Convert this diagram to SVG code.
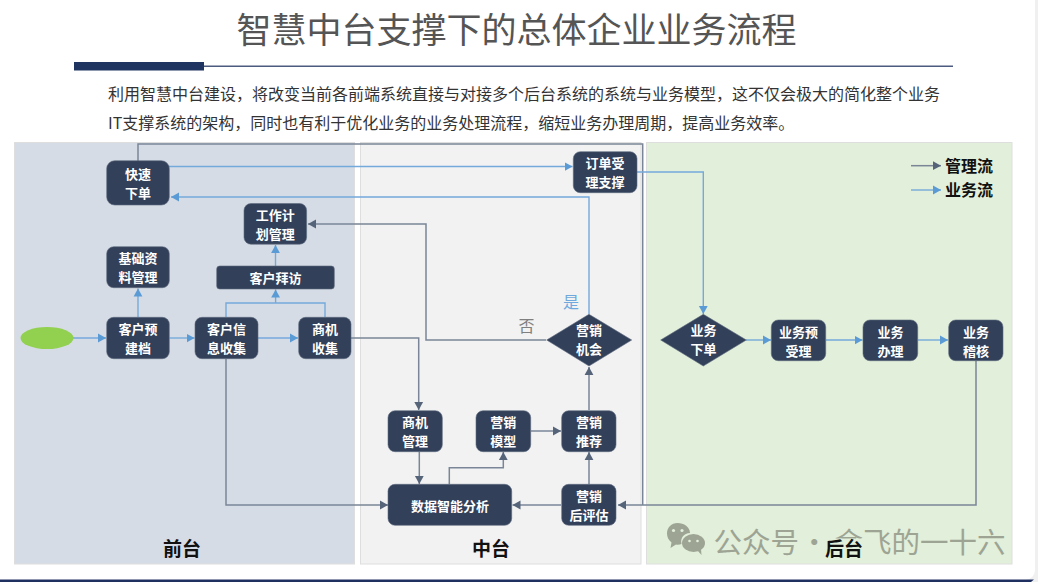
<svg xmlns="http://www.w3.org/2000/svg" width="1038" height="582" viewBox="0 0 1038 582">
<style>
text{font-family:"Noto Sans CJK SC","Liberation Sans",sans-serif}
.n{fill:#334059;stroke:#5c6a80;stroke-width:.6}
.t{fill:#fff;font-size:13px;font-weight:700;text-anchor:middle;dominant-baseline:central}
.c{fill:none}
.g{stroke:#7a8698;stroke-width:1.5}
.b{stroke:#74a9dc;stroke-width:1.4}
.p{font-size:19px;font-weight:700;fill:#111;text-anchor:middle;dominant-baseline:central}
.l{font-size:16px;font-weight:700;fill:#111;dominant-baseline:central}
.body{font-size:16px;fill:#333;dominant-baseline:central}
.panel{stroke:#dedede;stroke-width:1}
</style>
<defs>
<marker id="ag" markerUnits="userSpaceOnUse" markerWidth="10" markerHeight="10" refX="8" refY="5" orient="auto"><path d="M0 0.6L8 5L0 9.4Z" fill="#56647a"/></marker>
<marker id="ab" markerUnits="userSpaceOnUse" markerWidth="10" markerHeight="10" refX="8" refY="5" orient="auto"><path d="M0 0.6L8 5L0 9.4Z" fill="#5b9bd5"/></marker>
</defs>
<rect width="1038" height="582" fill="#f0f0f0"/>
<rect x="-12" y="-12" width="1047" height="592" rx="10" fill="#fff"/>
<path d="M0 579.500H1034L1031 582H0Z" fill="#1f3060"/>
<g id="title">
<text x="516.500" y="27" font-size="35" fill="#555" text-anchor="middle" dominant-baseline="central">智慧中台支撑下的总体企业业务流程</text>
<rect x="74" y="62" width="130" height="8.500" fill="#1f3460"/>
<rect x="204" y="65.500" width="749" height="1.500" fill="#4c5a80"/>
<text class="body" x="108" y="93">利用智慧中台建设&#xFF0C;将改变当前各前端系统直接与对接多个后台系统的系统与业务模型&#xFF0C;这不仅会极大的简化整个业务</text>
<text class="body" x="108" y="122">IT支撑系统的架构&#xFF0C;同时也有利于优化业务的业务处理流程&#xFF0C;缩短业务办理周期&#xFF0C;提高业务效率。</text>
</g>
<g id="panels">
<rect class="panel" x="14.500" y="142.500" width="340" height="421.500" fill="#d6dce5"/>
<rect class="panel" x="360.500" y="142.500" width="280.500" height="421.500" fill="#f2f2f2"/>
<rect class="panel" x="646.500" y="142.500" width="365.500" height="421.500" fill="#e2efda"/>
</g>
<g id="watermark" fill="#9da494">
<path d="M677.500 523C684 523 690 527 690 533C684 533 680 538 681.500 544C680 544.500 678 545 676 544.500L670.500 548L671.500 542.500C668.500 540 667 537 667 533.500C667 527.500 671.500 523 677.500 523Z"/>
<ellipse cx="693.500" cy="543" rx="11.500" ry="9"/><path d="M697 550l4.500 5-0.500-6z"/>
<g fill="#e2efda"><circle cx="673.500" cy="530.500" r="1.600"/><circle cx="682" cy="530.500" r="1.600"/><circle cx="689.500" cy="541" r="1.300"/><circle cx="697.500" cy="541" r="1.300"/></g>
<text y="540" font-size="28.500" dominant-baseline="central"><tspan x="713.500">公众号</tspan><tspan x="800">·</tspan><tspan x="834.500">金飞的一十六</tspan></text>
</g>
<g id="connectors">
<path class="c g" d="M138 161V144H642.700V505"/>
<path class="c g" d="M976 361V505H618" marker-end="url(#ag)"/>
<path class="c g" d="M546 340H426V224H308" marker-end="url(#ag)"/>
<path class="c g" d="M351 338H418.700V410" marker-end="url(#ag)"/>
<path class="c g" d="M419.300 452V484" marker-end="url(#ag)"/>
<path class="c g" d="M449.300 484V467.700H503.300V452" marker-end="url(#ag)"/>
<path class="c g" d="M531 431H561" marker-end="url(#ag)"/>
<path class="c g" d="M589 410V367" marker-end="url(#ag)"/>
<path class="c g" d="M589 484V452" marker-end="url(#ag)"/>
<path class="c g" d="M561 505H512.500" marker-end="url(#ag)"/>
<path class="c g" d="M226 359V505H388" marker-end="url(#ag)"/>
<path class="c b" d="M169 166.500H572.500" marker-end="url(#ab)"/>
<path class="c b" d="M637 172H703.300V314" marker-end="url(#ab)"/>
<path class="c b" d="M589 314V197H171" marker-end="url(#ab)"/>
<path class="c b" d="M226 317V303H325V317"/>
<path class="c b" d="M275.600 303V289.500" marker-end="url(#ab)"/>
<path class="c b" d="M275.500 266V245" marker-end="url(#ab)"/>
<path class="c b" d="M138 317V288.500" marker-end="url(#ab)"/>
<path class="c b" d="M73 338H106" marker-end="url(#ab)"/>
<path class="c b" d="M169.500 338H194.500" marker-end="url(#ab)"/>
<path class="c b" d="M258 338H298" marker-end="url(#ab)"/>
<path class="c b" d="M746 340H771" marker-end="url(#ab)"/>
<path class="c b" d="M826 340H862.500" marker-end="url(#ab)"/>
<path class="c b" d="M918 340H948" marker-end="url(#ab)"/>
<path class="c g" d="M911 165.700H941" marker-end="url(#ag)"/>
<path class="c b" d="M911 190H941" marker-end="url(#ab)"/>
</g>
<g id="start"><ellipse cx="47" cy="338" rx="26.500" ry="11" fill="#92d050"/></g>
<g id="kuaisu"><rect class="n" x="106.700" y="160.700" width="62.600" height="44.300" rx="8"/><text class="t" x="138" y="173.500">快速</text><text class="t" x="138" y="192">下单</text></g>
<g id="gongzuo"><rect class="n" x="244" y="203.500" width="62.600" height="40.700" rx="7"/><text class="t" x="275.300" y="214.500">工作计</text><text class="t" x="275.300" y="233.500">划管理</text></g>
<g id="jichu"><rect class="n" x="106.700" y="246.700" width="62.600" height="41" rx="7"/><text class="t" x="138" y="257.500">基础资</text><text class="t" x="138" y="276.500">料管理</text></g>
<g id="baifang"><rect class="n" x="216.700" y="266" width="117.600" height="23" rx="3"/><text class="t" x="275.500" y="277.500">客户拜访</text></g>
<g id="yujian"><rect class="n" x="106.700" y="317.300" width="62.600" height="41.400" rx="7"/><text class="t" x="138" y="328.500">客户预</text><text class="t" x="138" y="347.500">建档</text></g>
<g id="xinxi"><rect class="n" x="195" y="317.300" width="63" height="41.400" rx="7"/><text class="t" x="226.500" y="328.500">客户信</text><text class="t" x="226.500" y="347.500">息收集</text></g>
<g id="shangji"><rect class="n" x="298.700" y="317.300" width="52.300" height="41.400" rx="7"/><text class="t" x="325" y="328.500">商机</text><text class="t" x="325" y="347.500">收集</text></g>
<g id="dingdan"><rect class="n" x="573.300" y="151.700" width="63.700" height="41" rx="7"/><text class="t" x="605" y="162.500">订单受</text><text class="t" x="605" y="181.500">理支撑</text></g>
<g id="jihui"><path class="n" d="M546.700 340L589 314.300L631.700 340L589 366Z"/><text class="t" x="589" y="329.500">营销</text><text class="t" x="589" y="348.500">机会</text></g>
<g id="guanli"><rect class="n" x="388" y="410.700" width="54.300" height="41" rx="7"/><text class="t" x="415" y="421.500">商机</text><text class="t" x="415" y="440.500">管理</text></g>
<g id="moxing"><rect class="n" x="476" y="410.700" width="54.700" height="41" rx="7"/><text class="t" x="503.300" y="421.500">营销</text><text class="t" x="503.300" y="440.500">模型</text></g>
<g id="tuijian"><rect class="n" x="561.700" y="410.700" width="54.300" height="41" rx="7"/><text class="t" x="589" y="421.500">营销</text><text class="t" x="589" y="440.500">推荐</text></g>
<g id="shuju"><rect class="n" x="388" y="484.300" width="123.700" height="41" rx="7"/><text class="t" x="450" y="505">数据智能分析</text></g>
<g id="pinggu"><rect class="n" x="561.700" y="484.300" width="54.300" height="41" rx="7"/><text class="t" x="589" y="495.500">营销</text><text class="t" x="589" y="514">后评估</text></g>
<g id="xiadan"><path class="n" d="M660.700 340L703.300 314.300L746.300 340L703.300 366Z"/><text class="t" x="703.500" y="329.500">业务</text><text class="t" x="703.500" y="348.500">下单</text></g>
<g id="yushou"><rect class="n" x="771.300" y="320" width="54.400" height="40.700" rx="7"/><text class="t" x="798.500" y="331">业务预</text><text class="t" x="798.500" y="350">受理</text></g>
<g id="banli"><rect class="n" x="863" y="320" width="54.700" height="40.700" rx="7"/><text class="t" x="890.500" y="331">业务</text><text class="t" x="890.500" y="350">办理</text></g>
<g id="jihe"><rect class="n" x="948.700" y="320" width="54.300" height="40.700" rx="7"/><text class="t" x="976" y="331">业务</text><text class="t" x="976" y="350">稽核</text></g>
<g id="labels">
<text x="571" y="301" font-size="16" fill="#6fa8dc" text-anchor="middle" dominant-baseline="central">是</text>
<text x="526.500" y="325" font-size="16" fill="#7f7f7f" text-anchor="middle" dominant-baseline="central">否</text>
<text class="p" x="182" y="547">前台</text>
<text class="p" x="491" y="547">中台</text>
<rect x="824" y="538.500" width="38" height="21" fill="#e2efda"/>
<text class="p" x="844" y="547">后台</text>
<text class="l" x="945" y="165">管理流</text>
<text class="l" x="945" y="189">业务流</text>
</g>
</svg>
